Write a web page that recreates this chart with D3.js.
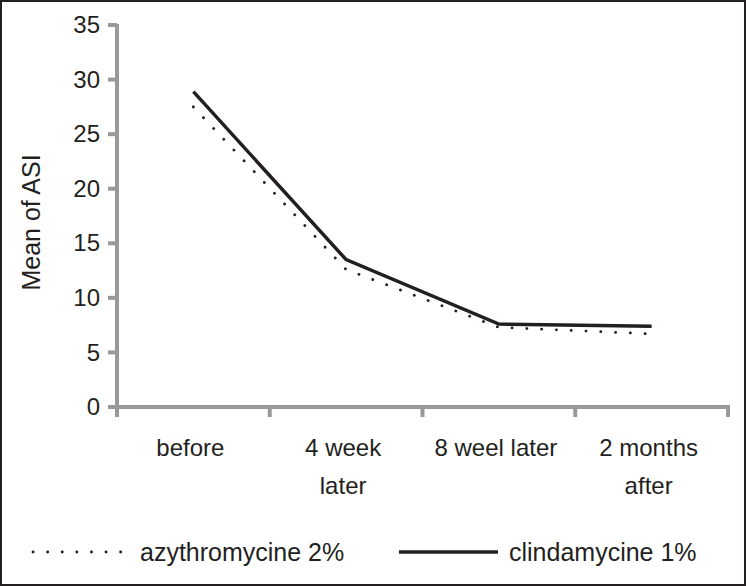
<!DOCTYPE html>
<html><head><meta charset="utf-8">
<script src="https://cdnjs.cloudflare.com/ajax/libs/d3/7.8.5/d3.min.js"></script>
<style>
html,body{margin:0;padding:0;background:#fff;}
svg text{font-family:"Liberation Sans",Arial,sans-serif;fill:#231f20;}
</style></head>
<body>
<script>
const categories = [["before"], ["4 week", "later"], ["8 weel later"], ["2 months", "after"]];
const seriesNames = ["azythromycine 2%", "clindamycine 1%"];
const azythromycine = [27.5, 12.6, 7.3, 6.7];
const clindamycine = [28.9, 13.5, 7.6, 7.4];
const yTicks = [0, 5, 10, 15, 20, 25, 30, 35];

const W = 746, H = 586;
const svg = d3.select("body").append("svg").attr("width", W).attr("height", H);
svg.append("rect").attr("x",1).attr("y",1).attr("width",W-2).attr("height",H-2)
  .attr("fill","#fff").attr("stroke","#231f20").attr("stroke-width",2);

const x0 = 117, x1 = 728, yTop = 25, yBot = 407;
const x = d3.scaleBand().domain(d3.range(categories.length)).range([x0, x1]).padding(0);
const y = d3.scaleLinear().domain([0, 35]).range([yBot, yTop]);
const axisColor = "#999999";
const axisW = 4;

// Y axis (ticks drawn via d3 axis, domain replaced by rect)
const yAxis = svg.append("g").attr("transform", `translate(${x0},0)`)
  .call(d3.axisLeft(y).tickValues(yTicks).tickSize(0).tickPadding(17).tickSizeOuter(0));
yAxis.select(".domain").remove();
yAxis.selectAll(".tick text").attr("font-size", 24).attr("fill", "#231f20").attr("font-family", "Liberation Sans, Arial, sans-serif");
yAxis.append("rect").attr("x", -axisW/2).attr("y", yTop - 1).attr("width", axisW).attr("height", yBot - yTop + 10)
  .attr("fill", axisColor);
yAxis.selectAll("rect.ytk").data(yTicks).join("rect").attr("class","ytk")
  .attr("x", -9).attr("y", d => y(d) - axisW/2).attr("width", 9).attr("height", axisW)
  .attr("fill", axisColor);

// X axis
const xAxis = svg.append("g");
xAxis.append("rect").attr("x", x0 - 9).attr("y", y(0) - axisW/2).attr("width", x1 - x0 + 9 + axisW/2).attr("height", axisW)
  .attr("fill", axisColor);
const bounds = d3.range(categories.length + 1).map(i => i < categories.length ? x(i) : x(i-1) + x.bandwidth());
xAxis.selectAll("rect.tk").data(bounds).join("rect").attr("class","tk")
  .attr("x", d => d - axisW/2).attr("y", y(0)).attr("width", axisW).attr("height", 10)
  .attr("fill", axisColor);
const lab = xAxis.selectAll("text.cat").data(categories).join("text").attr("class","cat")
  .attr("text-anchor", "middle").attr("font-size", 24)
  .attr("transform", (d, i) => `translate(${x(i) + x.bandwidth()/2 - 3},${y(0) + 49})`);
lab.selectAll("tspan").data(d => d).join("tspan")
  .attr("x", 0).attr("dy", (d, i) => i === 0 ? 0 : 38).text(d => d);

// Y label
svg.append("text").attr("text-anchor", "middle").attr("font-size", 25)
  .attr("transform", `translate(40,${(153+292)/2}) rotate(-90)`).text("Mean of ASI");

// Lines
const line = d3.line().x((d, i) => x(i) + x.bandwidth()/2).y(d => y(d));
svg.append("path").datum(azythromycine).attr("d", line).attr("fill", "none")
  .attr("stroke", "#231f20").attr("stroke-width", 2.8).attr("stroke-linecap", "round")
  .attr("stroke-dasharray", "0.1,14.7");
svg.append("path").datum(clindamycine).attr("d", line).attr("fill", "none")
  .attr("stroke", "#231f20").attr("stroke-width", 3.5);

// Legend
const lg = svg.append("g");
lg.append("line").attr("x1", 33).attr("x2", 121).attr("y1", 552).attr("y2", 552)
  .attr("stroke", "#231f20").attr("stroke-width", 2.8).attr("stroke-linecap", "round")
  .attr("stroke-dasharray", "0.1,14.5");
lg.append("text").attr("x", 140).attr("y", 561).attr("font-size", 25).text(seriesNames[0]);
lg.append("line").attr("x1", 399).attr("x2", 498).attr("y1", 552).attr("y2", 552)
  .attr("stroke", "#231f20").attr("stroke-width", 3.5);
lg.append("text").attr("x", 509).attr("y", 561).attr("font-size", 25).text(seriesNames[1]);
</script>
</body></html>
